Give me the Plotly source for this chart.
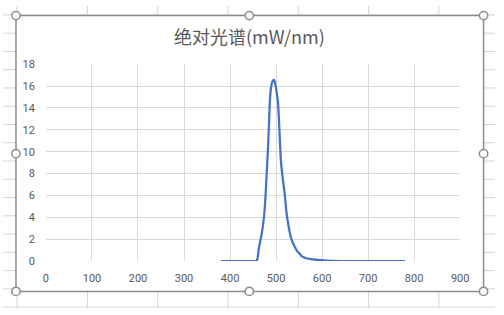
import plotly.graph_objects as go

W, H = 504, 315

# Data (wavelength nm, absolute spectrum mW/nm)
wavelength = [380, 400, 420, 440, 455, 458, 460, 462, 465, 468, 470, 472, 474, 476, 478,
              480, 482, 484, 486, 488, 490, 492, 494, 495, 497, 500, 502, 504, 506, 508,
              510, 512, 515, 518, 520, 522, 524, 528, 532, 536, 540, 545, 550, 555, 560,
              568, 580, 596, 610, 640, 700, 780]
power = [0, 0, 0, 0, 0, 0, 0.3, 1.0, 1.7, 2.3, 2.8, 3.4, 4.1, 5.2, 6.6,
         8.3, 9.9, 11.9, 14.1, 15.5, 16.1, 16.4, 16.55, 16.6, 16.4, 15.8, 15.2, 14.6, 13.2, 11.4,
         9.5, 8.5, 7.4, 6.4, 5.6, 4.7, 4.0, 3.0, 2.2, 1.7, 1.35, 0.95, 0.7, 0.48, 0.35,
         0.23, 0.15, 0.08, 0.03, 0, 0, 0]

x_ticks = [0, 100, 200, 300, 400, 500, 600, 700, 800, 900]
y_ticks = [0, 2, 4, 6, 8, 10, 12, 14, 16, 18]
title_text = "绝对光谱(mW/nm)"

def px(x):
    return x / W

def py(y):
    return 1 - y / H

fig = go.Figure()
fig.add_trace(go.Scatter(x=wavelength, y=power, mode="lines",
                         line=dict(color="#4472C4", width=2.25, shape="spline", smoothing=0.5),
                         hoverinfo="skip"))

shapes = []
# spreadsheet background grid
for gx in [14.3, 86.5, 158.5, 230.5, 302.5, 374.5, 446.5]:
    shapes.append(dict(type="line", xref="paper", yref="paper", x0=px(gx), x1=px(gx), y0=0, y1=1,
                       line=dict(color="#d4d4d4", width=1), layer="below"))
for i in range(17):
    gy = 9.3 + 19.05 * i
    shapes.append(dict(type="line", xref="paper", yref="paper", x0=0, x1=1, y0=py(gy), y1=py(gy),
                       line=dict(color="#d4d4d4", width=1), layer="below"))
# chart area
shapes.append(dict(type="rect", xref="paper", yref="paper", x0=px(13.3), x1=px(492.3),
                   y0=py(297.7), y1=py(10), fillcolor="white",
                   line=dict(color="#8c8c8c", width=1.5), layer="below"))
# selection handles
r = 4.3
for hx, hy in [(13.3, 10), (252.3, 10), (492.3, 10), (13.3, 154), (492.3, 154),
               (13.3, 297.7), (252.3, 297.7), (492.3, 297.7)]:
    shapes.append(dict(type="circle", xref="paper", yref="paper",
                       x0=px(hx - r), x1=px(hx + r), y0=py(hy + r), y1=py(hy - r),
                       fillcolor="white", line=dict(color="#8c8c8c", width=1.5), layer="above"))

fig.update_layout(
    width=W, height=H,
    margin=dict(l=0, r=0, t=0, b=0),
    paper_bgcolor="white",
    plot_bgcolor="rgba(0,0,0,0)",
    showlegend=False,
    shapes=shapes,
    annotations=[dict(text=title_text, xref="paper", yref="paper", x=px(252.5), y=py(31),
                      xanchor="center", yanchor="middle", showarrow=False,
                      font=dict(family="Noto Sans CJK SC", size=18, color="#595959"))],
    xaxis=dict(domain=[px(44), px(468.3)], range=[0, 900], tickvals=x_ticks,
               showgrid=True, gridcolor="#d9d9d9", gridwidth=1, zeroline=False,
               showline=False, ticks="", ticklabelstandoff=9,
               tickfont=dict(family="Roboto", size=11, color="#595959")),
    yaxis=dict(domain=[py(266), py(60.7)], range=[0, 18], tickvals=y_ticks,
               showgrid=True, gridcolor="#d9d9d9", gridwidth=1, zeroline=False,
               showline=False, ticks="", ticklabelstandoff=10,
               tickfont=dict(family="Roboto", size=11, color="#595959")),
)

fig.write_html("out.html")
